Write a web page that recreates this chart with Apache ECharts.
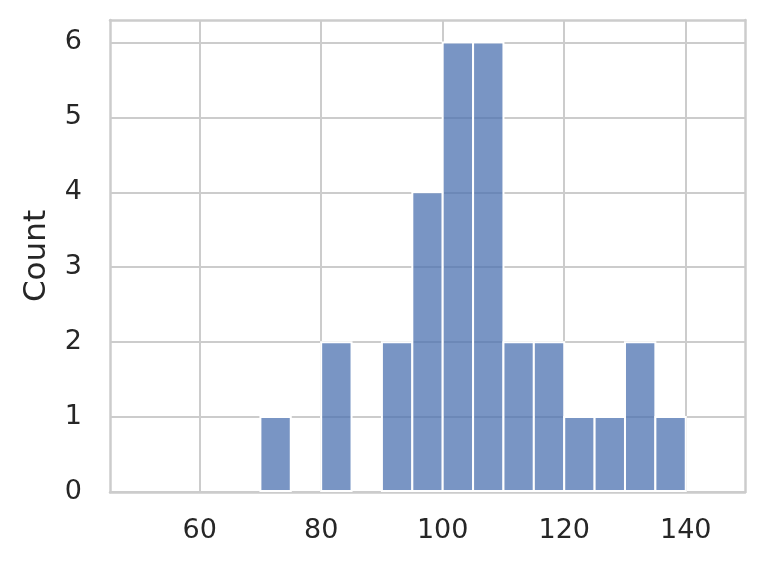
<!DOCTYPE html>
<html><head><meta charset="utf-8">
<script src="https://cdn.jsdelivr.net/npm/echarts@6/dist/echarts.min.js"></script>
<style>html,body{margin:0;padding:0;background:#fff}#c{width:765px;height:567px}</style>
</head><body><div id="c"></div>
<script>
const binStarts = [50,55,60,65,70,75,80,85,90,95,100,105,110,115,120,125,130,135,140];
const binWidth = 5;
const counts = [0,0,0,0,1,0,2,0,2,4,6,6,2,2,1,1,2,1,0];
const xTicks = [60,80,100,120,140];
const yTicks = [0,1,2,3,4,5,6];

const data = binStarts.map((s,i)=>[s, s+binWidth, counts[i]]);
const chart = echarts.init(document.getElementById('c'), null, {renderer:'canvas'});
const gridColor = '#cccccc';
const textColor = '#262626';
const font = 'DejaVu Sans';
chart.setOption({
  animation:false,
  grid:{left:110,right:20,top:20,bottom:75,containLabel:false},
  xAxis:[{
    type:'value', min:45.25, max:149.75,
    axisLine:{show:true,onZero:false,lineStyle:{color:gridColor,width:2.5}},
    axisTick:{show:false, customValues:xTicks},
    axisLabel:{customValues:xTicks,color:textColor,fontSize:27,fontFamily:font,margin:25},
    splitLine:{show:true,lineStyle:{color:gridColor,width:2}}
  },{
    type:'value', position:'top', min:45.25, max:149.75,
    axisLine:{show:true,onZero:false,lineStyle:{color:gridColor,width:2.5}},
    axisTick:{show:false},axisLabel:{show:false},splitLine:{show:false}
  }],
  yAxis:[{
    type:'value', min:0, max:6.3,
    name:'Count', nameLocation:'middle', nameGap:58, nameRotate:90,
    nameTextStyle:{color:textColor,fontSize:31,fontFamily:font},
    axisLine:{show:true,onZero:false,lineStyle:{color:gridColor,width:2.5}},
    axisTick:{show:false, customValues:yTicks},
    axisLabel:{customValues:yTicks,color:textColor,fontSize:27,fontFamily:font,margin:28},
    splitLine:{show:true,lineStyle:{color:gridColor,width:2}}
  },{
    type:'value', position:'right', min:0, max:6.3,
    axisLine:{show:true,onZero:false,lineStyle:{color:gridColor,width:2.5}},
    axisTick:{show:false},axisLabel:{show:false},splitLine:{show:false}
  }],
  series:[{
    type:'custom',
    xAxisIndex:0,yAxisIndex:0,
    data:data,
    encode:{x:[0,1],y:2},
    renderItem:function(params,api){
      if (api.value(2) <= 0) return null;
      const p0 = api.coord([api.value(0), api.value(2)]);
      const p1 = api.coord([api.value(1), 0]);
      return {
        type:'rect',
        shape:{x:p0[0], y:p0[1], width:p1[0]-p0[0], height:p1[1]-p0[1]-1},
        style:{fill:'rgba(76,114,176,0.75)', stroke:'#ffffff', lineWidth:2}
      };
    }
  }]
});
</script></body></html>
